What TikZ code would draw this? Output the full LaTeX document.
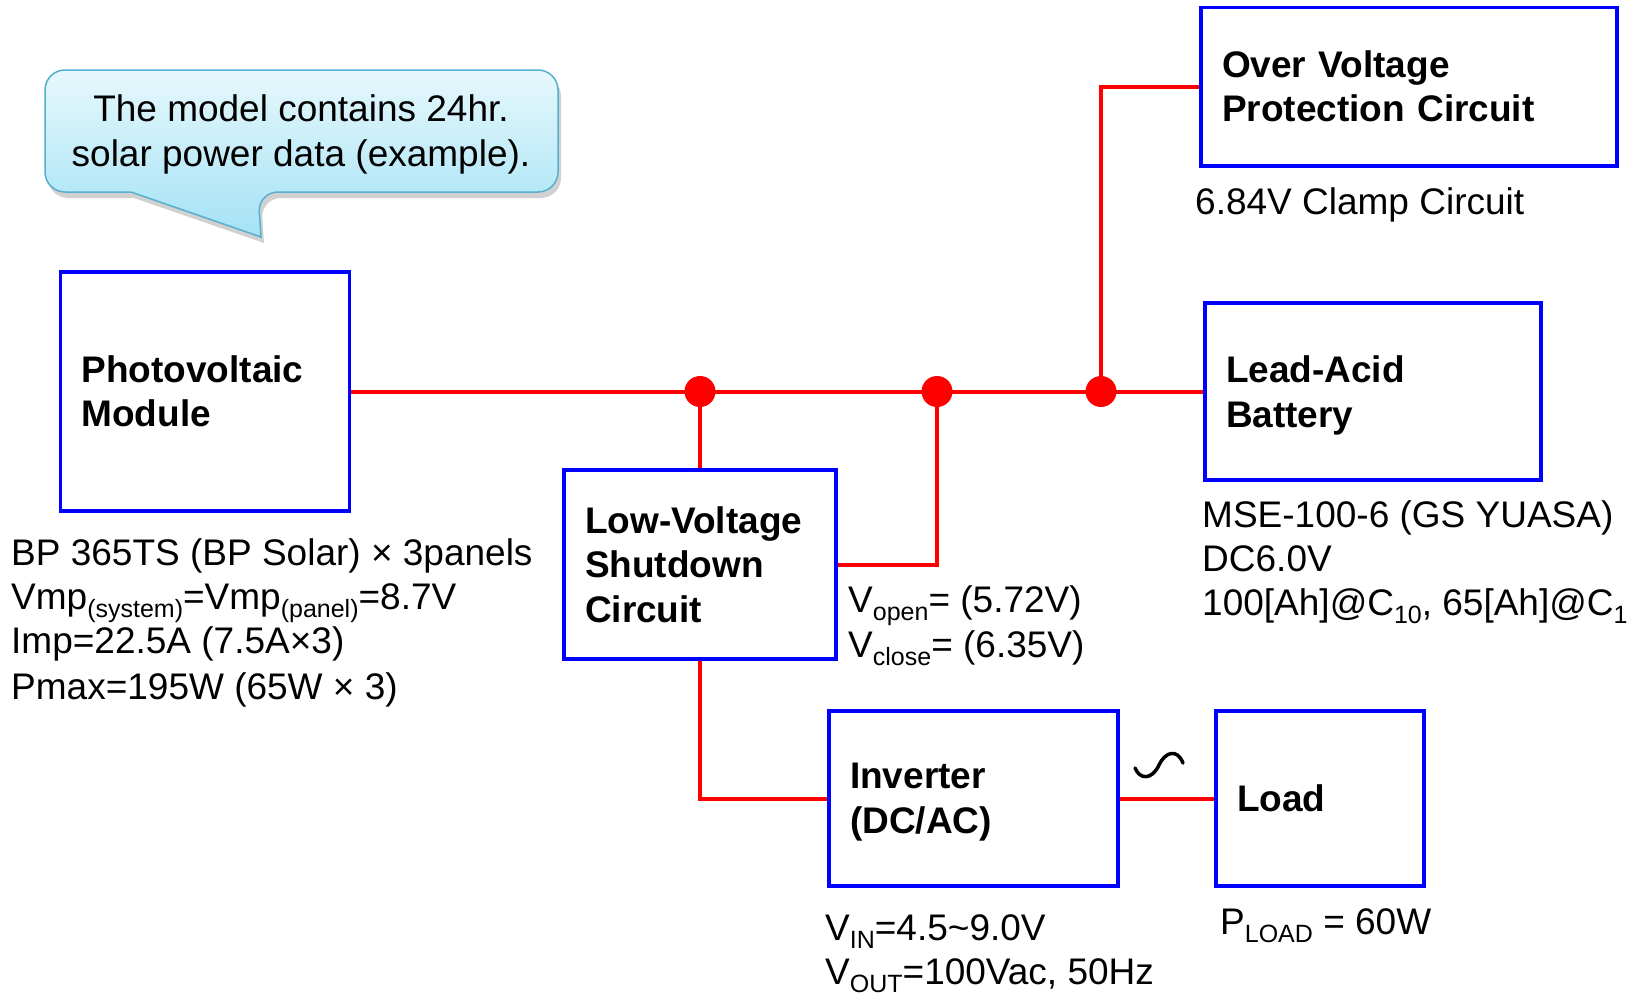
\documentclass[tikz,border=0pt]{standalone}
\usepackage{fontspec}
\setmainfont{Liberation Sans}
\definecolor{bblue}{RGB}{0,0,255}
\definecolor{rred}{RGB}{255,0,0}
\definecolor{ctop}{RGB}{230,248,252}
\definecolor{cbot}{RGB}{164,226,245}
\definecolor{cedge}{RGB}{86,176,205}
\newcommand\sbs[1]{\raisebox{-8pt}{\fontsize{25}{25}\selectfont #1}}
\begin{document}
\begin{tikzpicture}[x=1pt,y=-1pt,
  box/.style={draw=bblue, line width=3.5pt, rectangle, inner xsep=21pt, inner ysep=0pt, align=left, font=\fontsize{37}{44.5}\selectfont\bfseries},
  wire/.style={draw=rred, line width=4pt},
  junction/.style={circle, fill=rred, inner sep=0pt, minimum size=31pt},
  note/.style={inner sep=0pt, anchor=base west, font=\fontsize{37}{44.5}\selectfont}]
\useasboundingbox (0,0) rectangle (1635,993);
% callout
\path[fill=black, fill opacity=0.18, rounded corners=20, shift={(3,6)}] (45,130) -- (45,70) -- (558,70) -- (558,192) -- (258,192) [sharp corners] -- (261,237) -- (131,192) [rounded corners=20] -- (45,192) -- cycle;
\path[draw=cedge, line width=1.5pt, top color=ctop, bottom color=cbot, rounded corners=20] (45,130) -- (45,70) -- (558,70) -- (558,192) -- (258,192) [sharp corners] -- (261,237) -- (131,192) [rounded corners=20] -- (45,192) -- cycle;
\node[inner sep=0pt, align=center, font=\fontsize{37}{45}\selectfont] (callout) at (301,134) {The model contains 24hr.\\solar power data (example).};
% boxes
\node[box, minimum height=239pt, text width=247pt] (pv) at (205,391.5) {Photovoltaic\\Module};
\node[box, minimum height=158.5pt, text width=374pt] (ovp) at (1409,86.5) {Over Voltage\\Protection Circuit};
\node[box, minimum height=177pt, text width=294pt] (bat) at (1373,391.5) {Lead-Acid\\\smash{Battery}};
\node[box, minimum height=189pt, text width=230pt] (lv) at (700,564.5) {Low-Voltage\\Shutdown\\Circuit};
\node[box, minimum height=175pt, text width=247pt] (inv) at (973.5,798.5) {Inverter\\\smash{(DC/AC)}};
\node[box, minimum height=175pt, text width=166pt] (load) at (1320,798.5) {Load};
% junctions
\node[junction] (j1) at (700,391.5) {};
\node[junction] (j2) at (937,391.5) {};
\node[junction] (j3) at (1101,391.5) {};
% wires
\draw[wire] (pv.east) -- (bat.west);
\draw[wire] (j1.center) -- (lv.north);
\draw[wire] (j2.center) |- (lv.east);
\draw[wire] (j3.center) |- (ovp.west);
\draw[wire] (lv.south) |- (inv.west);
\draw[wire] (inv.east) -- (load.west);
% AC symbol
\draw[line width=3.5pt, line cap=round] (1135,768) .. controls (1140,780) and (1152,780) .. (1159,765) .. controls (1165,752) and (1177,748) .. (1183,763);
% notes
\node[note] (pvn1) at (11,565) {BP 365TS (BP Solar) × 3panels};
\node[note] (pvn2) at (11,609) {Vmp\sbs{(system)}=Vmp\sbs{(panel)}=8.7V};
\node[note] (pvn3) at (11,653) {Imp=22.5A (7.5A×3)};
\node[note] (pvn4) at (11,699) {Pmax=195W (65W × 3)};
\node[note] (ovpn) at (1195,214) {6.84V Clamp Circuit};
\node[note] (batn1) at (1202,527) {MSE-100-6 (GS YUASA)};
\node[note] (batn2) at (1202,571) {DC6.0V};
\node[note] (batn3) at (1202,615) {100[Ah]@C\sbs{10}, 65[Ah]@C\sbs{1}};
\node[note] (lvn1) at (848,612) {V\sbs{open}= (5.72V)};
\node[note] (lvn2) at (848,657) {V\sbs{close}= (6.35V)};
\node[note] (invn1) at (825,940) {V\sbs{IN}=4.5\textasciitilde 9.0V};
\node[note] (invn2) at (825,984) {V\sbs{OUT}=100Vac, 50Hz};
\node[note] (loadn) at (1220,934) {P\sbs{LOAD} = 60W};
\end{tikzpicture}
\end{document}
